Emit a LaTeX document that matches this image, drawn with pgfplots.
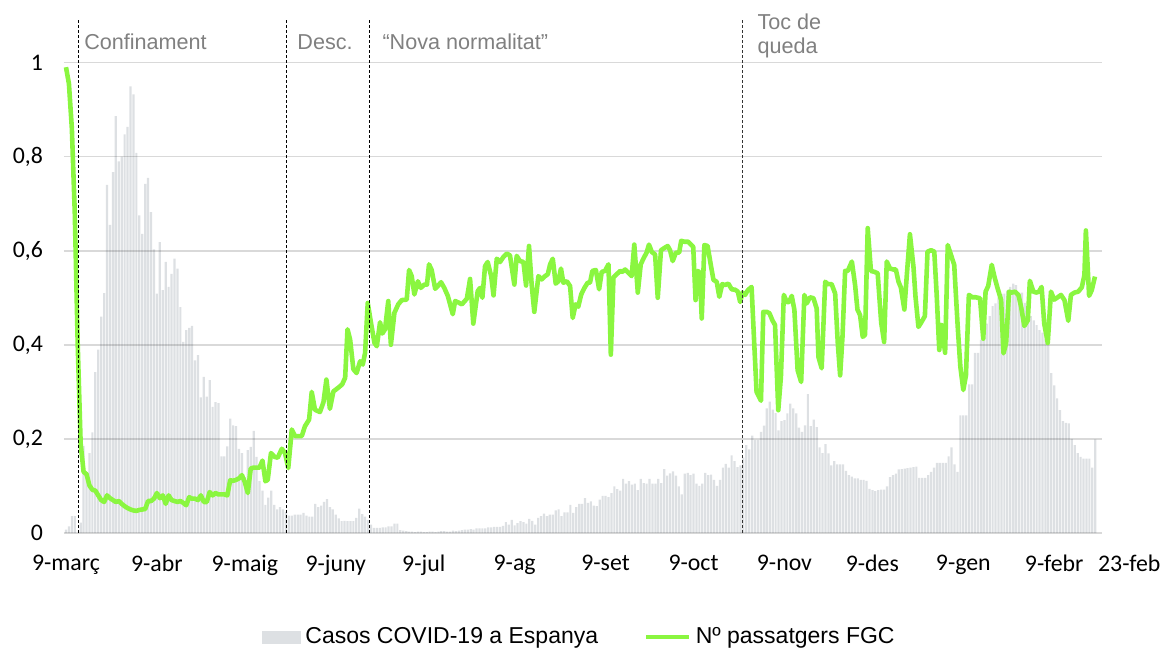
\documentclass[border=0pt]{standalone}
\usepackage{fontspec}
\setmainfont{Carlito}
\newfontfamily\arial{Liberation Sans}
\usepackage{pgfplots}
\pgfplotsset{compat=1.18}
\definecolor{fgc}{RGB}{138,246,64}
\definecolor{barc}{RGB}{221,224,227}
\definecolor{note}{RGB}{128,128,128}
\begin{document}
\begin{tikzpicture}
\begin{axis}[
  set layers,
  scale only axis,
  width=519pt, height=257.6pt,
  xmin=-0.68, xmax=353.3,
  ymin=0, ymax=1.095,
  clip=false,
  axis line style={draw=none},
  major tick length=0pt,
  ytick={0,0.2,0.4,0.6,0.8,1},
  yticklabels={0,{0,2},{0,4},{0,6},{0,8},1},
  ymajorgrids,
  grid style={black, opacity=0.15, line width=0.8pt},
  xtick={0,31,61,92,122,153,184,214,245,275,306,337},
  xticklabels={9-març,9-abr,9-maig,9-juny,9-jul,9-ag,9-set,9-oct,9-nov,9-des,9-gen,9-febr},
  extra x ticks={351},
  extra x tick labels={23-feb},
  extra x tick style={xticklabel style={xshift=17pt}},
  ticklabel style={font=\fontsize{11.9}{14}\selectfont},
  yticklabel style={xshift=-7pt},
  xticklabel style={yshift=-7.5pt},
  legend style={at={(0.1908,-0.2019)}, anchor=west, draw=none, fill=none,
    font=\arial\fontsize{11.5}{13}\selectfont, inner sep=0pt,
    nodes={inner sep=2pt},
    /tikz/every even column/.append style={column sep=21pt}},
  legend columns=2,
]
\addplot[ybar, bar width=1.1pt, fill=barc, draw=none, on layer=axis background,
  legend image code/.code={\fill[barc] (0pt,-3.25pt) rectangle (19.5pt,3.25pt);}]
coordinates {
(0,.007) (1,.014) (2,.036) (3,.036) (4,0) (5,.022) (6,.185) (7,.12) (8,.17) (9,.214)
(10,.342) (11,.39) (12,.46) (13,.51) (14,.74) (15,.655) (16,.767) (17,.886) (18,.79) (19,.80)
(20,.847) (21,.863) (22,.949) (23,.932) (24,.808) (25,.675) (26,.636) (27,.742) (28,.755) (29,.682)
(30,.603) (31,.509) (32,.618) (33,.516) (34,.576) (35,.523) (36,.551) (37,.583) (38,.562) (39,.48)
(40,.406) (41,.431) (42,.436) (43,.44) (44,.367) (45,.378) (46,.288) (47,.332) (48,.29) (49,.325)
(50,.268) (51,.278) (52,.276) (53,.163) (54,.163) (55,.184) (56,.243) (57,.229) (58,.227) (59,.179)
(60,.17) (61,.119) (62,.176) (63,.183) (64,.217) (65,.162) (66,.11) (67,.09) (68,.06) (69,.075)
(70,.09) (71,.06) (72,.05) (73,.055) (74,.05) (75,.045) (76,.037) (77,.037) (78,.039) (79,.039)
(80,.039) (81,.043) (82,.037) (83,.035) (84,.035) (85,.062) (86,.055) (87,.058) (88,.066) (89,.072)
(90,.055) (91,.05) (92,.039) (93,.031) (94,.025) (95,.026) (96,.025) (97,.025) (98,.025) (99,.032)
(100,.052) (101,.04) (102,.035) (103,.028) (104,.018) (105,.011) (106,.011) (107,.011) (108,.012) (109,.012)
(110,.014) (111,.014) (112,.02) (113,.02) (114,.006) (115,.005) (116,.004) (117,.003) (118,.003) (119,.002)
(120,.003) (121,.003) (122,.002) (123,.002) (124,.003) (125,.003) (126,.002) (127,.003) (128,.004) (129,.004)
(130,.003) (131,.003) (132,.005) (133,.004) (134,.005) (135,.006) (136,.007) (137,.007) (138,.008) (139,.007)
(140,.01) (141,.01) (142,.01) (143,.01) (144,.012) (145,.012) (146,.013) (147,.013) (148,.013) (149,.015)
(150,.023) (151,.018) (152,.028) (153,.016) (154,.021) (155,.025) (156,.023) (157,.02) (158,.03) (159,.026)
(160,.018) (161,.032) (162,.036) (163,.041) (164,.036) (165,.039) (166,.039) (167,.048) (168,.05) (169,.036)
(170,.044) (171,.044) (172,.06) (173,.043) (174,.055) (175,.062) (176,.062) (177,.074) (178,.064) (179,.067)
(180,.058) (181,.057) (182,.071) (183,.079) (184,.079) (185,.076) (186,.085) (187,.099) (188,.093) (189,.09)
(190,.115) (191,.105) (192,.11) (193,.103) (194,.105) (195,.091) (196,.115) (197,.106) (198,.105) (199,.115)
(200,.105) (201,.105) (202,.115) (203,.106) (204,.136) (205,.122) (206,.127) (207,.131) (208,.122) (209,.099)
(210,.082) (211,.126) (212,.128) (213,.123) (214,.126) (215,.105) (216,.1) (217,.105) (218,.128) (219,.123)
(220,.124) (221,.113) (222,.1) (223,.113) (224,.139) (225,.147) (226,.139) (227,.165) (228,.153) (229,.14)
(230,.144) (231,.16) (232,.187) (233,.178) (234,.207) (235,.198) (236,.198) (237,.215) (238,.228) (239,.265)
(240,.279) (241,.262) (242,.255) (243,.218) (244,.238) (245,.24) (246,.254) (247,.275) (248,.265) (249,.254)
(250,.224) (251,.215) (252,.229) (253,.295) (254,.227) (255,.241) (256,.225) (257,.182) (258,.17) (259,.189)
(260,.169) (261,.144) (262,.153) (263,.146) (264,.146) (265,.146) (266,.132) (267,.123) (268,.12) (269,.116)
(270,.116) (271,.113) (272,.113) (273,.111) (274,.094) (275,.091) (276,.089) (277,.091) (278,.092) (279,.092)
(280,.099) (281,.119) (282,.123) (283,.126) (284,.135) (285,.136) (286,.137) (287,.138) (288,.139) (289,.14)
(290,.141) (291,.117) (292,.117) (293,.117) (294,.123) (295,.13) (296,.139) (297,.149) (298,.149) (299,.149)
(300,.149) (301,.163) (302,.182) (303,.146) (304,.13) (305,.25) (306,.25) (307,.25) (308,.316) (309,.316)
(310,.383) (311,.383) (312,.411) (313,.411) (314,.445) (315,.461) (316,.482) (317,.488) (318,.501) (319,.508)
(320,.509) (321,.515) (322,.523) (323,.53) (324,.527) (325,.511) (326,.511) (327,.489) (328,.47) (329,.461)
(330,.452) (331,.442) (332,.431) (333,.426) (334,.413) (335,.404) (336,.34) (337,.314) (338,.286) (339,.261)
(340,.238) (341,.234) (342,.233) (343,.2) (344,.187) (345,.17) (346,.162) (347,.158) (348,.158) (349,.158)
(350,.139) (351,.199)
};
\addlegendentry{Casos COVID-19 a Espanya}
\addplot[fgc, line width=2.3pt, line join=round, mark=none,
  legend image code/.code={\draw[fgc, line width=2.3pt] (0pt,0pt) -- (21.5pt,0pt);}]
coordinates {
(0,0.99) (1,0.955) (2,0.86) (3,0.68) (4,0.40) (5,0.19) (6,0.13) (7,0.125) (8,0.101) (9,0.092)
(10,0.09) (11,0.08) (12,0.07) (13,0.066) (14,0.08) (15,0.074) (16,0.07) (17,0.066) (18,0.068) (19,0.062)
(20,0.057) (21,0.053) (22,0.05) (23,0.048) (24,0.047) (25,0.049) (26,0.05) (27,0.051) (28,0.068) (29,0.068)
(30,0.073) (31,0.085) (32,0.074) (33,0.08) (34,0.062) (35,0.08) (36,0.07) (37,0.068) (38,0.066) (39,0.068)
(40,0.064) (41,0.059) (42,0.076) (43,0.073) (44,0.073) (45,0.07) (46,0.08) (47,0.066) (48,0.066) (49,0.087)
(50,0.08) (51,0.085) (52,0.082) (53,0.082) (54,0.082) (55,0.08) (56,0.112) (57,0.111) (58,0.113) (59,0.116)
(60,0.123) (61,0.108) (62,0.085) (63,0.137) (64,0.139) (65,0.139) (66,0.139) (67,0.154) (68,0.11) (68.8,0.113)
(69.9,0.17) (71.1,0.162) (72.2,0.16) (73.6,0.179) (74.7,0.17) (75.8,0.138) (77,0.22) (78.1,0.206) (80.4,0.206) (81.5,0.227)
(82.9,0.241) (83.8,0.3) (84.9,0.262) (86.6,0.257) (87.8,0.278) (88.8,0.326) (90,0.264) (91.2,0.301) (92.9,0.309) (94.2,0.316)
(95.2,0.33) (96,0.433) (96.9,0.411) (98,0.348) (99.1,0.34) (100.3,0.365) (101.2,0.358) (102,0.383) (102.9,0.489) (104,0.447)
(105.2,0.404) (106,0.397) (107.1,0.448) (107.9,0.424) (108.8,0.433) (109.9,0.493) (110.8,0.4) (112,0.468) (113.3,0.486) (114.5,0.495)
(116.2,0.496) (117,0.559) (117.9,0.546) (118.8,0.507) (120,0.535) (121,0.521) (122.2,0.528) (123.1,0.528) (123.8,0.571) (124.7,0.559)
(125.9,0.519) (126.8,0.525) (127.9,0.533) (129,0.521) (130.2,0.504) (131.9,0.465) (132.7,0.493) (133.8,0.49) (135,0.486) (136.7,0.498)
(137.8,0.54) (138.9,0.445) (140.4,0.514) (141.2,0.521) (142,0.5) (142.9,0.567) (143.8,0.576) (145,0.546) (145.8,0.505) (146.9,0.583)
(148,0.576) (149.2,0.587) (150.3,0.594) (151.4,0.59) (152.9,0.528) (153.7,0.589) (154.8,0.578) (156,0.576) (156.9,0.526) (157.9,0.61)
(158.8,0.528) (159.7,0.47) (161.1,0.546) (162.2,0.539) (163.4,0.546) (164.3,0.55) (165.1,0.571) (166,0.583) (167,0.53) (167.9,0.535)
(168.8,0.562) (169.6,0.532) (170.8,0.535) (171.9,0.525) (172.8,0.457) (173.8,0.486) (174.7,0.481) (175.7,0.507) (176.8,0.521) (177.9,0.532)
(178.7,0.532) (179.5,0.557) (180.7,0.559) (181.8,0.518) (182.7,0.555) (183.8,0.557) (185,0.571) (185.8,0.379) (186.7,0.543) (187.8,0.55)
(189,0.557) (189.7,0.555) (190.7,0.56) (191.8,0.553) (192.9,0.546) (193.8,0.613) (195,0.511) (196,0.571) (196.9,0.583) (198,0.596)
(198.8,0.613) (199.8,0.597) (200.9,0.592) (201.8,0.5) (202.9,0.601) (204.1,0.606) (205.2,0.61) (206,0.601) (206.9,0.578) (208,0.596)
(209.1,0.596) (209.8,0.621) (210.9,0.619) (212.2,0.619) (213.9,0.608) (214.7,0.495) (215.6,0.557) (216.2,0.551) (216.8,0.456) (217.7,0.612)
(218.8,0.61) (220,0.566) (220.8,0.538) (221.9,0.534) (222.8,0.502) (223.8,0.529) (224.7,0.527) (225.9,0.53) (227,0.518) (228.2,0.517)
(229.1,0.513) (229.9,0.491) (230.7,0.511) (231.6,0.506) (232.5,0.516) (233.8,0.523) (234.7,0.403) (235.5,0.3) (237,0.281) (237.8,0.47)
(239,0.47) (239.9,0.467) (240.9,0.452) (241.8,0.442) (242.9,0.261) (243.8,0.332) (244.8,0.506) (245.8,0.491) (246.6,0.491) (247.5,0.504)
(248.4,0.474) (249.5,0.346) (250.7,0.321) (251.8,0.506) (252.6,0.488) (253.7,0.501) (254.9,0.499) (256,0.477) (256.6,0.374) (257.7,0.35)
(258.9,0.534) (259.8,0.529) (261.1,0.529) (262.3,0.509) (263.2,0.403) (264,0.335) (264.8,0.417) (265.7,0.557) (266.6,0.557) (268,0.577)
(269.1,0.527) (269.9,0.475) (270.8,0.463) (271.7,0.417) (272.5,0.421) (273.4,0.648) (274.5,0.557) (275.7,0.555) (276.8,0.552) (278,0.447)
(279,0.406) (279.9,0.577) (281,0.562) (282.2,0.56) (283,0.56) (283.9,0.534) (284.7,0.522) (285.9,0.475) (286.7,0.545) (287.8,0.635)
(289,0.566) (289.7,0.502) (290.7,0.438) (291.8,0.449) (292.9,0.461) (293.8,0.598) (295,0.601) (296.1,0.598) (296.9,0.509) (297.8,0.389)
(298.6,0.442) (299.8,0.383) (300.7,0.612) (301.8,0.591) (302.9,0.57) (304.1,0.438) (305,0.353) (306,0.304) (306.9,0.335) (307.9,0.506)
(309.1,0.501) (310.2,0.501) (311.7,0.499) (312.8,0.413) (313.6,0.513) (314.5,0.525) (315.7,0.57) (316.6,0.545) (317.7,0.52) (318.9,0.495)
(319.7,0.382) (320.6,0.403) (321.6,0.513) (322.5,0.511) (323.6,0.513) (324.8,0.506) (325.7,0.481) (326.8,0.44) (328,0.452) (328.7,0.536)
(329.9,0.513) (331,0.511) (331.8,0.513) (332.7,0.523) (333.6,0.445) (334.8,0.404) (335.9,0.513) (337,0.496) (338.2,0.501) (339.3,0.506)
(340.5,0.495) (341.8,0.451) (342.7,0.506) (343.9,0.511) (345.2,0.513) (346.4,0.522) (347.3,0.548) (347.8,0.643) (348.9,0.504) (349.8,0.516)
(350.9,0.545)
};
\addlegendentry{Nº passatgers FGC}
\draw[black, line width=0.5pt, dash pattern=on 1.5pt off 1pt] (axis cs:4.2,0) -- (axis cs:4.2,1.093);
\draw[black, line width=0.5pt, dash pattern=on 1.5pt off 1pt] (axis cs:75.3,0) -- (axis cs:75.3,1.093);
\draw[black, line width=0.5pt, dash pattern=on 1.5pt off 1pt] (axis cs:103.4,0) -- (axis cs:103.4,1.093);
\draw[black!80, line width=0.5pt, dash pattern=on 1.5pt off 1pt] (axis cs:230.7,0) -- (axis cs:230.7,1.093);
\node[anchor=base west, inner sep=0pt, text=note, font=\arial\fontsize{10.8}{13}\selectfont] at (axis cs:6.1,1.028) {Confinament};
\node[anchor=base west, inner sep=0pt, text=note, font=\arial\fontsize{10.8}{13}\selectfont] at (axis cs:78.8,1.028) {Desc.};
\node[anchor=base west, inner sep=0pt, text=note, font=\arial\fontsize{10.8}{13}\selectfont] at (axis cs:107.8,1.028) {“Nova normalitat”};
\node[anchor=base west, inner sep=0pt, text=note, font=\arial\fontsize{10.8}{13}\selectfont] at (axis cs:235.7,1.0706) {Toc de};
\node[anchor=base west, inner sep=0pt, text=note, font=\arial\fontsize{10.8}{13}\selectfont] at (axis cs:235.7,1.0196) {queda};
\end{axis}
\pgfresetboundingbox
\path[use as bounding box] (-32pt,-58.5pt) rectangle (549.5pt,266.5pt);
\end{tikzpicture}
\end{document}
